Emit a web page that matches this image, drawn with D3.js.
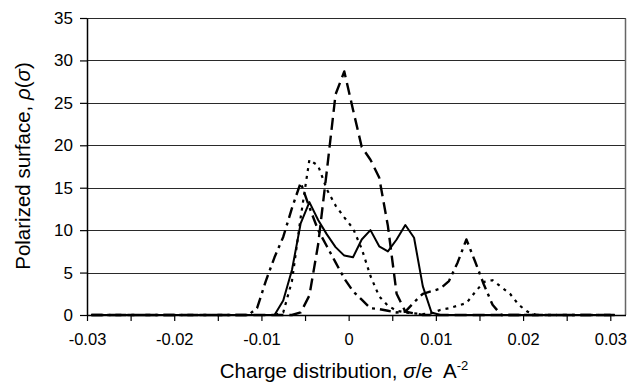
<!DOCTYPE html>
<html>
<head>
<meta charset="utf-8">
<script src="https://cdn.jsdelivr.net/npm/d3@7"></script>
<style>
  body { margin: 0; background: #fff; }
  text { font-family: "Liberation Sans", Arial, Helvetica, sans-serif; fill: #000; }
</style>
</head>
<body>
<div id="chart"></div>
<script>
// charge categories (e/A^2), one per step of 0.001
const sigma = [
  -0.030, -0.029, -0.028, -0.027, -0.026, -0.025, -0.024, -0.023, -0.022, -0.021,
  -0.020, -0.019, -0.018, -0.017, -0.016, -0.015, -0.014, -0.013, -0.012, -0.011,
  -0.010, -0.009, -0.008, -0.007, -0.006, -0.005, -0.004, -0.003, -0.002, -0.001,
  0.000, 0.001, 0.002, 0.003, 0.004, 0.005, 0.006, 0.007, 0.008, 0.009,
  0.010, 0.011, 0.012, 0.013, 0.014, 0.015, 0.016, 0.017, 0.018, 0.019,
  0.020, 0.021, 0.022, 0.023, 0.024, 0.025, 0.026, 0.027, 0.028, 0.029,
  0.030
];

// solid
const seriesSolid = [
  0, 0, 0, 0, 0, 0, 0, 0, 0, 0,
  0, 0, 0, 0, 0, 0, 0, 0, 0, 0,
  0, 0, 1.7, 5.3, 10.8, 13.3, 11.2, 9.5, 8.0, 7.0,
  6.8, 8.9, 10.0, 8.1, 7.5, 8.9, 10.6, 9.1, 3.4, 0.3,
  0, 0, 0, 0, 0, 0, 0, 0, 0, 0,
  0, 0, 0, 0, 0, 0, 0, 0, 0, 0,
  0
];

// long dash
const seriesDash = [
  0, 0, 0, 0, 0, 0, 0, 0, 0, 0,
  0, 0, 0, 0, 0, 0, 0, 0, 0, 0,
  0, 0, 0, 0, 0.3, 2.3, 8.3, 17.0, 26.0, 28.7,
  24.2, 19.8, 18.3, 16.2, 10.5, 2.5, 0.4, 0.2, 0, 0,
  0, 0, 0, 0, 0, 0, 0, 0, 0, 0,
  0, 0, 0, 0, 0, 0, 0, 0, 0, 0,
  0
];

// dash-dot
const seriesDashDot = [
  0, 0, 0, 0, 0, 0, 0, 0, 0, 0,
  0, 0, 0, 0, 0, 0, 0, 0, 0, 0.8,
  4.0, 6.8, 9.2, 12.6, 15.6, 12.7, 10.0, 8.1, 6.2, 4.3,
  2.8, 1.8, 0.8, 0.7, 0.5, 0.3, 0.4, 1.5, 2.5, 2.8,
  3.1, 4.0, 6.2, 8.9, 6.3, 3.6, 1.2, 0, 0, 0,
  0, 0, 0, 0, 0, 0, 0, 0, 0, 0,
  0
];

// short dots
const seriesDot = [
  0, 0, 0, 0, 0, 0, 0, 0, 0, 0,
  0, 0, 0, 0, 0, 0, 0, 0, 0, 0,
  0, 0, 0.3, 4.0, 11.5, 18.3, 17.6, 14.8, 12.9, 11.5,
  10.2, 7.8, 4.6, 2.2, 1.1, 0.5, 0.3, 0.2, 0.1, 0.2,
  0.6, 0.8, 1.1, 1.4, 2.7, 3.9, 4.1, 3.3, 2.5, 1.2,
  0.4, 0, 0, 0, 0, 0, 0, 0, 0, 0,
  0
];

const xTicks = [-0.03, -0.025, -0.02, -0.015, -0.01, -0.005, 0, 0.005, 0.01, 0.015, 0.02, 0.025, 0.03];
const xLabels = ["-0.03", "-0.02", "-0.01", "0", "0.01", "0.02", "0.03"];
const yTicks = [0, 5, 10, 15, 20, 25, 30, 35];

const width = 630, height = 384;
const plot = { left: 87, right: 626, top: 18, bottom: 315 };
const halfStep = 0.0005; // points sit in the middle of each category slot

const svg = d3.select("#chart")
  .append("svg")
  .attr("width", width)
  .attr("height", height);

const x = d3.scaleLinear().domain([-0.03, 0.0318]).range([plot.left, plot.right]);
const y = d3.scaleLinear().domain([0, 35]).range([plot.bottom, plot.top]);

// gridlines
svg.append("g")
  .selectAll("line")
  .data(yTicks.filter(d => d > 0))
  .enter()
  .append("line")
  .attr("x1", plot.left)
  .attr("x2", plot.right)
  .attr("y1", d => Math.round(y(d)) + 0.5)
  .attr("y2", d => Math.round(y(d)) + 0.5)
  .attr("stroke", "#2a2a2a")
  .attr("stroke-width", 1);

// right border
svg.append("line")
  .attr("x1", plot.right - 0.5).attr("x2", plot.right - 0.5)
  .attr("y1", Math.round(y(35)) + 0.5).attr("y2", plot.bottom)
  .attr("stroke", "#666").attr("stroke-width", 1.5);

// y axis
const yAxis = svg.append("g")
  .attr("transform", `translate(${plot.left},0)`)
  .call(d3.axisLeft(y).tickValues(yTicks).tickSize(7).tickPadding(7).tickSizeOuter(0));
yAxis.select(".domain").attr("stroke", "#000").attr("stroke-width", 1.5);
yAxis.selectAll(".tick line").attr("stroke", "#000").attr("stroke-width", 1.2);
yAxis.selectAll("text").style("font-size", "17px").style("font-family", null);

// x axis, labels only every 0.01 (hyphen minus like the original)
const labelFor = d => {
  const s = Math.abs(d) < 1e-9 ? "0" : (d < 0 ? "-" : "") + Math.abs(d).toFixed(2);
  return xLabels.includes(s) && Math.abs(Math.round(d * 100) - d * 100) < 1e-6 ? s : "";
};
const xAxis = svg.append("g")
  .attr("transform", `translate(0,${plot.bottom})`)
  .call(d3.axisBottom(x)
    .tickValues(xTicks)
    .tickSize(6)
    .tickPadding(12)
    .tickSizeOuter(0)
    .tickFormat(labelFor));
xAxis.select(".domain").attr("stroke", "#000").attr("stroke-width", 1.5)
  .attr("d", `M${plot.left},0.5H${plot.right}`);
xAxis.selectAll(".tick line").attr("stroke", "#000").attr("stroke-width", 1.2);
xAxis.selectAll("text").style("font-size", "16.5px").style("font-family", null);

// series
const series = [
  { values: seriesDot, dash: "3,5", w: 2.2 },
  { values: seriesDashDot, dash: "11,5,3,5", w: 2.4 },
  { values: seriesDash, dash: "12,6", w: 2.4 },
  { values: seriesSolid, dash: null, w: 2 }
];

const line = d3.line()
  .x((d, i) => x(sigma[i] + halfStep))
  .y(d => y(d));

svg.append("g")
  .selectAll("path")
  .data(series)
  .enter()
  .append("path")
  .attr("d", d => line(d.values))
  .attr("fill", "none")
  .attr("stroke", "#000")
  .attr("stroke-width", d => d.w)
  .attr("stroke-dasharray", d => d.dash)
  .attr("stroke-linejoin", "round");

// axis titles
const yTitle = svg.append("text")
  .attr("transform", "translate(30,166) rotate(-90)")
  .attr("text-anchor", "middle")
  .style("font-size", "20.5px");
yTitle.append("tspan").text("Polarized surface, ");
yTitle.append("tspan").style("font-style", "italic").text("ρ");
yTitle.append("tspan").text("(");
yTitle.append("tspan").style("font-style", "italic").text("σ");
yTitle.append("tspan").text(")");

const xTitle = svg.append("text")
  .attr("x", 344)
  .attr("y", 378)
  .attr("text-anchor", "middle")
  .style("font-size", "20.5px");
xTitle.append("tspan").text("Charge distribution, ");
xTitle.append("tspan").style("font-style", "italic").text("σ");
xTitle.append("tspan").text("/e  A").attr("xml:space", "preserve");
xTitle.append("tspan").attr("dy", -8).style("font-size", "13px").text("-2");
</script>
</body>
</html>
